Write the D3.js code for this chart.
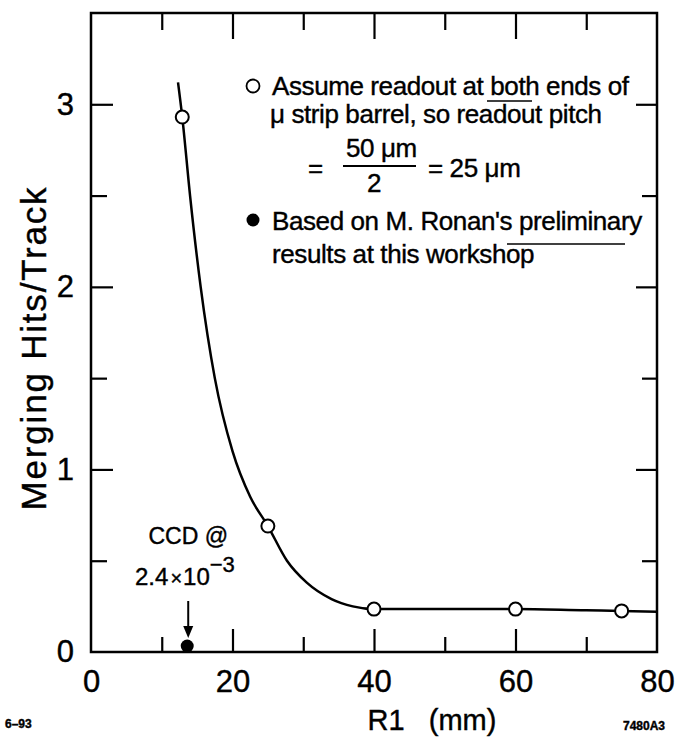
<!DOCTYPE html>
<html>
<head>
<meta charset="utf-8">
<script src="https://cdn.jsdelivr.net/npm/d3@7"></script>
<style>
  body { margin: 0; background: #fff; }
  svg { font-family: "Liberation Sans", Arial, sans-serif; }
  svg text { fill: #000; stroke: #000; stroke-width: 0.4; }
  .axis path { display: none; }
  .ticks line { stroke: #000; stroke-width: 2.2; }
</style>
</head>
<body>
<svg id="chart" width="675" height="741"></svg>
<script>
// DATA: values
const xMajor = [20, 40, 60];
const xMinor = [10, 30, 50, 70];
const xLabels = [0, 20, 40, 60, 80];
const yMajor = [1, 2, 3];
const yMinor = [0.5, 1.5, 2.5];
const yLabels = [0, 1, 2, 3];

// open circles: readout at both ends
const openR1 = [12.9, 25, 40, 60, 75];
const openHits = [2.93, 0.69, 0.235, 0.235, 0.225];

// filled circle: CCD
const ccdR1 = [13.6];
const ccdHits = [0.033];

// smooth curve drawn through the points
const curveR1 = [12.3, 12.9, 14, 15.5, 17.5, 20, 22.5, 25, 27.7, 30.5, 34, 37, 40, 50, 60, 70, 75, 80];
const curveHits = [3.12, 2.93, 2.5, 2.0, 1.5, 1.1, 0.85, 0.69, 0.50, 0.38, 0.29, 0.25, 0.235, 0.235, 0.235, 0.228, 0.225, 0.22];

// SETUP
const box = { left: 91, right: 657, top: 13, bottom: 652 };
const svg = d3.select("#chart");

const x = d3.scaleLinear().domain([0, 80]).range([box.left, box.right]);
const y = d3.scaleLinear().domain([0, 3.5]).range([box.bottom, box.top]);

// frame
svg.append("rect")
    .attr("x", box.left).attr("y", box.top)
    .attr("width", box.right - box.left).attr("height", box.bottom - box.top)
    .attr("fill", "none").attr("stroke", "#000").attr("stroke-width", 2.5);

// inward ticks on all four sides
function ticks(axisFn, pos, vals, len) {
    svg.append("g").attr("class", "axis ticks")
        .attr("transform", pos)
        .call(axisFn.tickValues(vals).tickSize(-len).tickFormat(""));
}
ticks(d3.axisBottom(x), `translate(0,${box.bottom})`, xMajor, 23);
ticks(d3.axisBottom(x), `translate(0,${box.bottom})`, xMinor, 15);
ticks(d3.axisTop(x), `translate(0,${box.top})`, xMajor, 26);
ticks(d3.axisTop(x), `translate(0,${box.top})`, xMinor, 17);
ticks(d3.axisLeft(y), `translate(${box.left},0)`, yMajor, 22);
ticks(d3.axisLeft(y), `translate(${box.left},0)`, yMinor, 16);
ticks(d3.axisRight(y), `translate(${box.right},0)`, yMajor, 21);
ticks(d3.axisRight(y), `translate(${box.right},0)`, yMinor, 15);

// tick labels
const xl = svg.append("g").attr("class", "axis")
    .attr("transform", `translate(0,${box.bottom})`)
    .call(d3.axisBottom(x).tickValues(xLabels).tickSize(0).tickPadding(18).tickFormat(d3.format("d")));
xl.selectAll("text").attr("font-size", 31).attr("fill", "#000").attr("font-family", "Liberation Sans");

const yl = svg.append("g").attr("class", "axis")
    .attr("transform", `translate(${box.left},0)`)
    .call(d3.axisLeft(y).tickValues(yLabels).tickSize(0).tickPadding(17).tickFormat(d3.format("d")));
yl.selectAll("text").attr("font-size", 31).attr("fill", "#000").attr("font-family", "Liberation Sans");

// axis titles
svg.append("text")
    .attr("x", 432).attr("y", 730)
    .attr("text-anchor", "middle").attr("font-size", 29)
    .attr("xml:space", "preserve")
    .text("R1   (mm)");

svg.append("text")
    .attr("transform", "translate(46,348) rotate(-90)")
    .attr("text-anchor", "middle").attr("font-size", 35)
    .attr("letter-spacing", 1.8)
    .text("Merging Hits/Track");

// corner codes
svg.append("text").attr("x", 5).attr("y", 728)
    .attr("font-size", 12).attr("font-weight", "bold").text("6–93");
svg.append("text").attr("x", 665).attr("y", 730).attr("text-anchor", "end")
    .attr("font-size", 12).attr("font-weight", "bold").text("7480A3");

// curve
const curveData = curveR1.map((r, i) => ({ r, h: curveHits[i] }));
const line = d3.line()
    .x(d => x(d.r))
    .y(d => y(d.h))
    .curve(d3.curveMonotoneX);
svg.append("path")
    .datum(curveData)
    .attr("d", line)
    .attr("fill", "none").attr("stroke", "#000").attr("stroke-width", 2.5);

// open points
svg.selectAll(".open")
    .data(openR1.map((r, i) => ({ r, h: openHits[i] })))
    .enter().append("circle")
    .attr("class", "open")
    .attr("cx", d => x(d.r)).attr("cy", d => y(d.h)).attr("r", 6.5)
    .attr("fill", "#fff").attr("stroke", "#000").attr("stroke-width", 2);

// CCD point
svg.selectAll(".ccd")
    .data(ccdR1.map((r, i) => ({ r, h: ccdHits[i] })))
    .enter().append("circle")
    .attr("class", "ccd")
    .attr("cx", d => x(d.r)).attr("cy", d => y(d.h)).attr("r", 6.5)
    .attr("fill", "#000");

// CCD annotation with arrow
const ccd = { r: ccdR1[0], h: ccdHits[0] };
const ax = x(ccd.r) + 1;
svg.append("line")
    .attr("x1", ax).attr("x2", ax)
    .attr("y1", 601).attr("y2", y(ccd.h) - 14)
    .attr("stroke", "#000").attr("stroke-width", 2);
svg.append("path")
    .attr("d", `M${ax - 5},${y(ccd.h) - 20} L${ax},${y(ccd.h) - 8} L${ax + 5},${y(ccd.h) - 20} Z`)
    .attr("fill", "#000");
svg.append("text")
    .attr("x", ax).attr("y", 544).attr("text-anchor", "middle")
    .attr("font-size", 23).text("CCD @");
const sci = svg.append("text")
    .attr("x", 135).attr("y", 585).attr("font-size", 24);
sci.append("tspan").text("2.4");
sci.append("tspan").attr("font-size", 20).attr("dx", 2).text("×");
sci.append("tspan").attr("dx", 1).text("10");
sci.append("tspan").attr("dy", -13).attr("font-size", 22).text("−3");

// legend
const leg = svg.append("g");
leg.append("circle").attr("cx", 253).attr("cy", 86).attr("r", 6.5)
    .attr("fill", "#fff").attr("stroke", "#000").attr("stroke-width", 1.8);
leg.append("circle").attr("cx", 253).attr("cy", 220).attr("r", 6.5).attr("fill", "#000");

const legText = (tx, ty, s) => leg.append("text").attr("x", tx).attr("y", ty)
    .attr("font-size", 26).attr("letter-spacing", -0.4).text(s);
legText(272, 95, "Assume readout at both ends of");
legText(270, 123, "μ strip barrel, so readout pitch");
legText(308, 177, "=");
legText(346, 157, "50 μm");
legText(367, 192, "2");
legText(428, 177, "= 25 μm");
legText(272, 230, "Based on M. Ronan's preliminary");
legText(272, 263, "results at this workshop");

// fraction bar and underlines
leg.append("line").attr("x1", 343).attr("x2", 416).attr("y1", 166).attr("y2", 166)
    .attr("stroke", "#000").attr("stroke-width", 2);
leg.append("line").attr("x1", 487).attr("x2", 532).attr("y1", 101).attr("y2", 101)
    .attr("stroke", "#000").attr("stroke-width", 1.5);
leg.append("line").attr("x1", 507).attr("x2", 625).attr("y1", 244).attr("y2", 244)
    .attr("stroke", "#000").attr("stroke-width", 1.5);
</script>
</body>
</html>
